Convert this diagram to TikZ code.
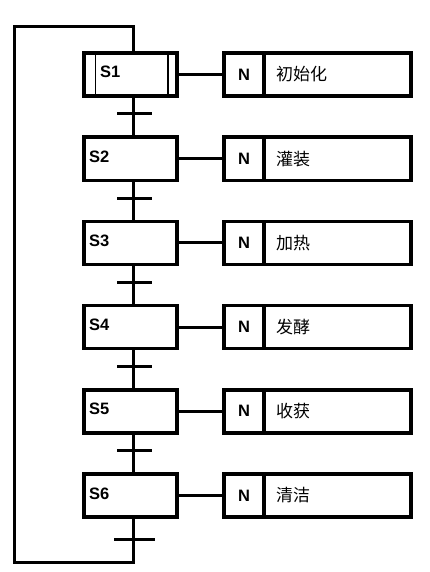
\documentclass[tikz,border=0pt]{standalone}
\usepackage{fontspec}
\setmainfont{Liberation Sans}
\newfontfamily\cjk{Noto Sans CJK SC}
\begin{document}
\begin{tikzpicture}[x=1pt,y=-1pt,
  stepbox/.style={draw, line width=3.4pt, minimum width=93pt, minimum height=43pt, inner sep=0pt},
  nbox/.style={draw, line width=3.4pt, minimum width=40pt, minimum height=43pt, inner sep=0pt, font=\fontsize{16.5}{16.5}\selectfont\bfseries},
  actbox/.style={draw, line width=3.4pt, minimum width=187pt, minimum height=43pt, inner sep=0pt},
  steplabel/.style={font=\fontsize{16.5}{16.5}\selectfont\bfseries, inner sep=0pt},
  acttext/.style={font=\fontsize{17}{17}\selectfont\cjk, inner sep=0pt, anchor=west},
  link/.style={line width=3pt},
  tbar/.style={line width=3pt}]
\useasboundingbox (0,0) rectangle (430,572);
\foreach \i/\t in {1/初始化,2/灌装,3/加热,4/发酵,5/收获,6/清洁}{
  \pgfmathsetmacro{\yc}{74.5+84.2*(\i-1)}
  \node[actbox] (a\i) at (317.5,\yc) {};
  \node[nbox] (n\i) at (244,\yc) {N};
  \node[acttext] (x\i) at (276,\yc) {\t};
  \node[stepbox] (s\i) at (130.5,\yc) {};
  \draw[link] (s\i.east) -- (n\i.west);
}
\node[steplabel, anchor=base west] (l1) at (100,78) {S1};
\foreach \i in {2,...,6}{
  \pgfmathsetmacro{\yb}{78+84.2*(\i-1)}
  \node[steplabel, anchor=base west] (l\i) at (89,\yb) {S\i};
}
\draw[line width=1.6pt] ([xshift=13pt]s1.north west) -- ([xshift=13pt]s1.south west);
\draw[line width=1.6pt] ([xshift=-11pt]s1.north east) -- ([xshift=-11pt]s1.south east);
\foreach \i [evaluate=\i as \j using int(\i+1)] in {1,...,5}{
  \pgfmathsetmacro{\yt}{114+84.2*(\i-1)}
  \coordinate (t\i) at (133,\yt);
  \draw[link] ([xshift=2.5pt]s\i.south) -- ([xshift=2.5pt]s\j.north);
  \draw[tbar] ([xshift=-16pt]t\i) -- ([xshift=19pt]t\i);
}
\coordinate (t6) at (133,539);
\coordinate (c1) at (133,562);
\coordinate (c2) at (14,562);
\coordinate (c3) at (14,27);
\coordinate (c4) at (133,27);
\draw[tbar] ([xshift=-19pt]t6) -- ([xshift=22pt]t6);
\draw[link] ([xshift=2.5pt]s6.south) -- (c1) -- (c2) -- (c3) -- (c4) -- ([xshift=2.5pt]s1.north);
\end{tikzpicture}
\end{document}
